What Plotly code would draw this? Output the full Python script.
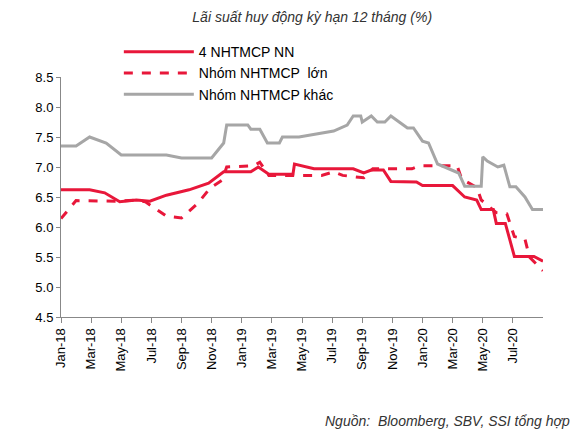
import plotly.graph_objects as go

# month index: 0 = Jan-18
labels = ["Jan-18", "Mar-18", "May-18", "Jul-18", "Sep-18", "Nov-18", "Jan-19", "Mar-19",
          "May-19", "Jul-19", "Sep-19", "Nov-19", "Jan-20", "Mar-20", "May-20", "Jul-20"]

nn_x = [0, 1.9, 2.9, 3.9, 5, 5.9, 7, 8.5, 9.8, 10.8, 12.6, 13.1, 13.8, 15.4, 15.5, 16.8, 19.4,
        20.1, 20.6, 21.4, 21.9, 23.6, 24, 26, 26.8, 27.3, 27.6, 27.9, 28.7, 28.9, 29.5, 30.1, 31.4, 32]
nn_y = [6.62, 6.62, 6.57, 6.42, 6.45, 6.43, 6.53, 6.62, 6.73, 6.92, 6.92, 7.0, 6.88, 6.88, 7.05, 6.97, 6.97,
        6.9, 6.95, 6.95, 6.76, 6.75, 6.69, 6.69, 6.5, 6.47, 6.45, 6.29, 6.29, 6.06, 6.06, 5.51, 5.51, 5.43]

lon_x = [0, 1, 3.9, 5, 5.6, 7, 8, 9.1, 9.9, 10.7, 11, 12.8, 13.2, 13.8, 17.3, 18.1, 18.7, 20.1, 20.7,
         23.3, 23.8, 26.3, 26.6, 27.6, 27.9, 28.9, 29.6, 30.1, 30.8, 31.1, 32]
lon_y = [6.14, 6.44, 6.43, 6.45, 6.42, 6.18, 6.15, 6.4, 6.65, 6.78, 7.0, 7.02, 7.08, 6.86, 6.86, 6.92, 6.86, 6.82, 6.97,
         6.97, 7.02, 7.02, 6.8, 6.66, 6.45, 6.24, 6.22, 5.84, 5.8, 5.5, 5.27]

khac_x = [0, 1, 1.9, 3, 4, 7, 8, 10, 10.8, 11, 12.4, 12.6, 13.2, 13.7, 14.5, 14.7, 15.8, 18.1, 19, 19.4,
          19.9, 20, 20.6, 21, 21.5, 21.9, 23, 23.4, 24, 24.4, 25, 25.9, 26.4, 26.8, 27.9, 28, 28.3,
          29, 29.4, 29.8, 30.2, 30.8, 31.3, 32]
khac_y = [7.35, 7.35, 7.5, 7.4, 7.2, 7.2, 7.15, 7.15, 7.4, 7.7, 7.7, 7.63, 7.63, 7.4, 7.4, 7.5, 7.5, 7.6, 7.7, 7.85,
          7.85, 7.75, 7.85, 7.75, 7.75, 7.85, 7.65, 7.65, 7.43, 7.4, 7.05, 6.95, 6.9, 6.68, 6.68, 7.17, 7.1,
          7.0, 7.03, 6.67, 6.67, 6.5, 6.29, 6.29]

RED = "#e8173a"
GRAY = "#a6a6a6"

fig = go.Figure()
fig.add_trace(go.Scatter(x=nn_x, y=nn_y, mode="lines", name="4 NHTMCP NN",
                         line=dict(color=RED, width=3)))
fig.add_trace(go.Scatter(x=lon_x, y=lon_y, mode="lines", name="Nhóm NHTMCP  lớn",
                         line=dict(color=RED, width=3, dash="dash")))
fig.add_trace(go.Scatter(x=khac_x, y=khac_y, mode="lines", name="Nhóm NHTMCP khác",
                         line=dict(color=GRAY, width=3)))

fig.update_layout(
    width=585, height=440,
    margin=dict(l=53, r=50, t=69, b=131),
    plot_bgcolor="white", paper_bgcolor="white",
    font=dict(family="Liberation Sans, Arial", size=13, color="#000"),
    title=dict(text="<i>Lãi suất huy động kỳ hạn 12 tháng (%)</i>", x=0.52, xanchor="center",
               y=0.99, yanchor="top", font=dict(size=14, color="#333")),
    legend=dict(x=0.12, y=1.17, xanchor="left", yanchor="top", bgcolor="rgba(0,0,0,0)",
                font=dict(size=14), tracegroupgap=0, itemwidth=70),
    showlegend=True,
)
fig.update_xaxes(range=[0, 32], tickmode="array", tickvals=list(range(0, 32, 2)), ticktext=labels,
                 tickangle=-90, ticks="outside", ticklen=5, tickcolor="#888",
                 showline=True, linecolor="#888", showgrid=False, zeroline=False,
                 tickfont=dict(size=13))
fig.update_yaxes(range=[4.5, 8.5], dtick=0.5, tickformat=".1f", ticks="outside", ticklen=4,
                 tickcolor="#888", showline=True, linecolor="#888", showgrid=False, zeroline=False,
                 tickfont=dict(size=13))
fig.add_annotation(text="<i>Nguồn:  Bloomberg, SBV, SSI tổng hợp</i>", xref="paper", yref="paper",
                   x=1.06, y=-0.39, xanchor="right", yanchor="top", showarrow=False,
                   font=dict(size=14, color="#333"))

fig.write_html("out.html")
